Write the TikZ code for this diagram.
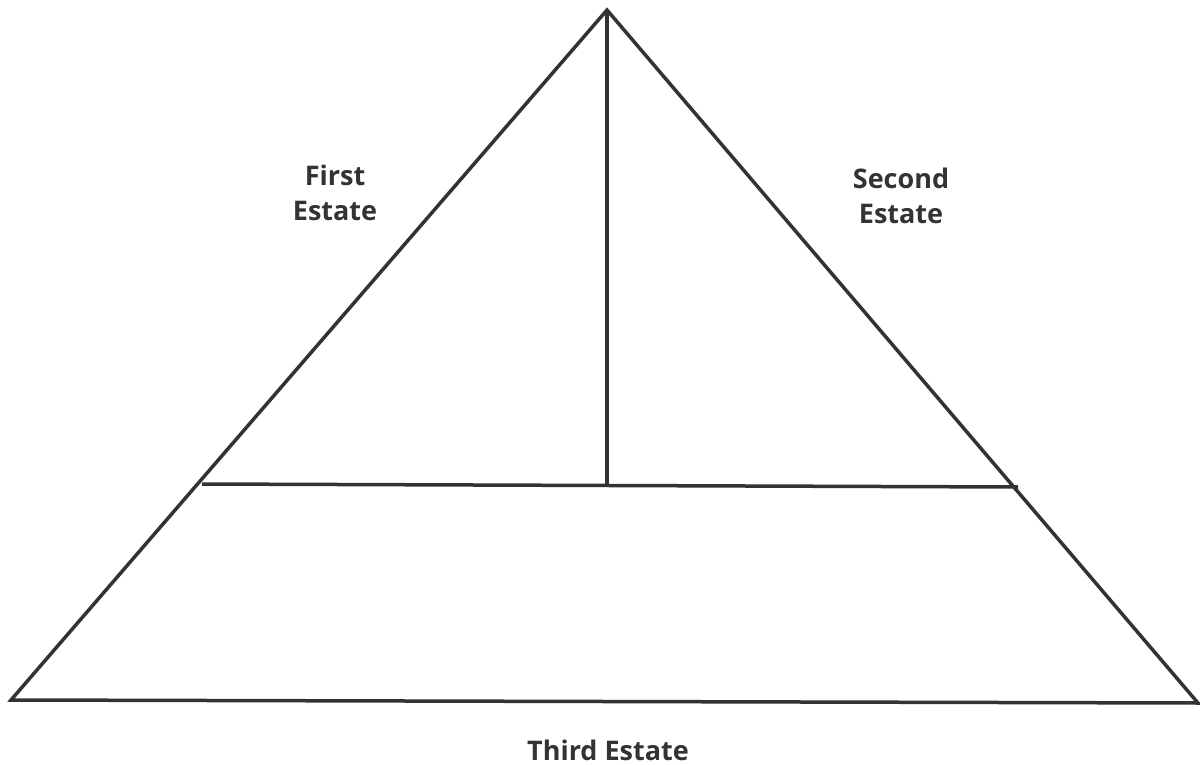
\documentclass[tikz,border=0pt]{standalone}
\usepackage{fontspec}
\setmainfont{Open Sans}
\begin{document}
\begin{tikzpicture}[x=1pt,y=-1pt,
  edge/.style={draw=black!80, line width=3.5pt, line join=miter},
  lbl/.style={font=\fontsize{27}{35}\selectfont\bfseries, text=black!80, align=center, inner sep=0pt}]
\useasboundingbox (0,0) rectangle (1200,765);
\coordinate (apex) at (607,10);
\coordinate (bl) at (11,700);
\coordinate (br) at (1198,703);
\coordinate (ml) at (202,484);
\coordinate (mr) at (1018,487);
\coordinate (mc) at (607,485);
\draw[edge] (apex) -- (bl) -- (br) -- cycle;
\draw[edge] (ml) -- (mr);
\draw[edge] (apex) -- (mc);
\node[lbl] (first) at (335,193) {First\\Estate};
\node[lbl] (second) at (901,196) {Second\\Estate};
\node[lbl] (third) at (608,750) {Third Estate};
\end{tikzpicture}
\end{document}
